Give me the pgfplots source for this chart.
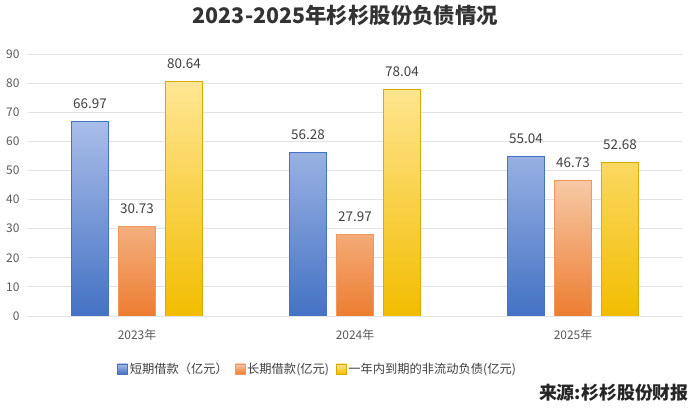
\documentclass[border=0pt]{standalone}
\usepackage{pgfplots}
\pgfplotsset{compat=1.18}
\usepackage{fontspec}
\setmainfont{Noto Sans CJK SC}
\definecolor{bluetop}{HTML}{A9BDE8}
\definecolor{bluebot}{HTML}{4472C4}
\definecolor{orgtop}{HTML}{F6C9A6}
\definecolor{orgbot}{HTML}{ED7D31}
\definecolor{yeltop}{HTML}{FFE694}
\definecolor{yelbot}{HTML}{F2BD00}
\definecolor{gridc}{HTML}{E3E3E3}
\definecolor{tickc}{HTML}{595959}
\definecolor{labc}{HTML}{404040}
\begin{document}
\begin{tikzpicture}
\useasboundingbox (0,0) rectangle (693bp,410bp);
\begin{axis}[
  at={(28bp,94bp)}, anchor=south west,
  scale only axis, width=654bp, height=262bp,
  xmin=-0.5, xmax=2.5, ymin=0, ymax=90,
  ytick={0,10,...,90},
  xtick={0,1,2}, xticklabels={2023年,2024年,2025年},
  ymajorgrids, grid style={gridc, line width=0.8pt},
  axis x line*=bottom, axis y line*=left,
  y axis line style={draw=none},
  x axis line style={draw=gridc, line width=1pt},
  major tick length=0pt,
  tick label style={font=\fontsize{12}{13}\selectfont, text=tickc},
  xticklabel style={yshift=-10bp},
  yticklabel style={xshift=-5bp},
  ybar, bar width=37bp,
  nodes near coords,
  nodes near coords style={font=\fontsize{13.5}{15}\selectfont, text=labc, anchor=south, yshift=9bp, /pgf/number format/fixed, /pgf/number format/precision=2, /pgf/number format/fixed zerofill},
  legend style={at={(0.443,-0.202)}, anchor=center, draw=none, font=\fontsize{12.3}{14}\selectfont, text=labc, legend columns=3, /tikz/every even column/.append style={column sep=5bp}},
  legend image code/.code={\draw[#1] (0bp,-5bp) rectangle (10bp,5bp);},
  /pgf/number format/assume math mode=true,
]
\addplot[bar shift=-47bp, draw=bluebot, top color=bluetop, bottom color=bluebot] coordinates {(0,66.97) (1,56.28) (2,55.04)};
\addplot[bar shift=0bp, draw=orgbot!80, top color=orgtop, bottom color=orgbot] coordinates {(0,30.73) (1,27.97) (2,46.73)};
\addplot[bar shift=47bp, draw=yelbot!90!black, top color=yeltop, bottom color=yelbot] coordinates {(0,80.64) (1,78.04) (2,52.68)};
\legend{短期借款（亿元）,长期借款(亿元),一年内到期的非流动负债(亿元)}
\end{axis}
\node[font=\bfseries\fontsize{21.5}{24}\selectfont, text=black!80, inner sep=0pt] at (345.5bp,394.5bp) {2023-2025年杉杉股份负债情况};
\node[font=\bfseries\fontsize{18}{20}\selectfont, text=black!85, anchor=east, inner sep=0pt] at (689bp,17.5bp) {来源:杉杉股份财报};
\end{tikzpicture}
\end{document}
